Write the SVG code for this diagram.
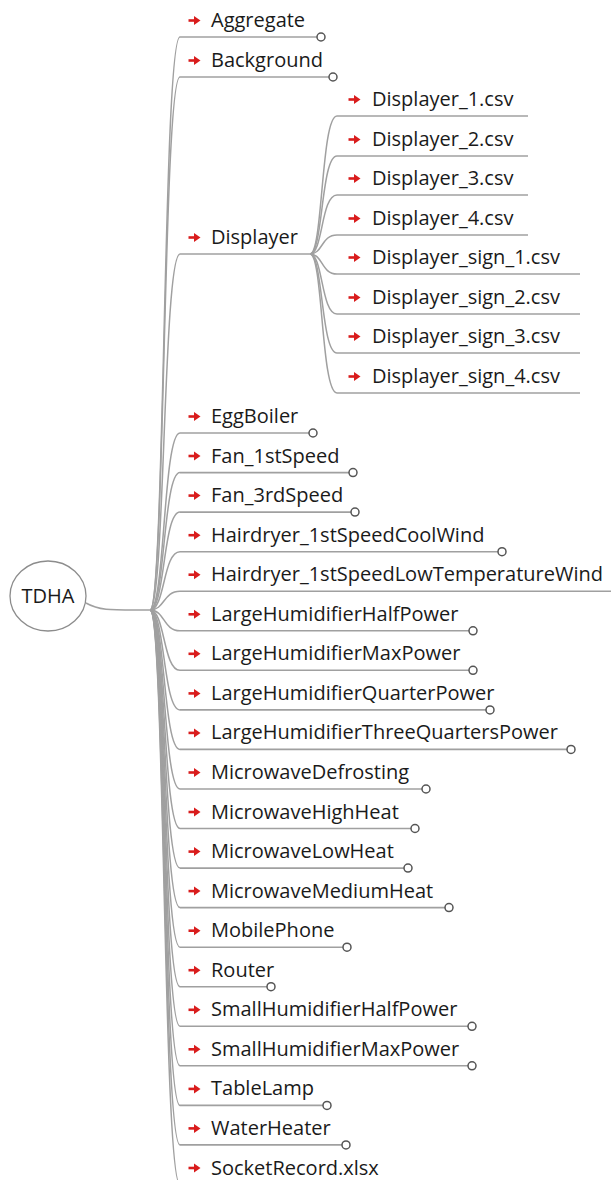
<svg xmlns="http://www.w3.org/2000/svg" width="611" height="1180" viewBox="0 0 611 1180">
  <style>
    .bg { fill: #ffffff; }
    .link { fill: none; stroke: #a0a0a0; stroke-width: 1.5; }
    .under { fill: none; stroke: #a0a0a0; stroke-width: 1.6; }
    .lbl { font-family: "Open Sans", "DejaVu Sans", sans-serif; font-size: 20px; fill: #1a1a1a; }
    .root-shape { fill: #ffffff; stroke: #8c8c8c; stroke-width: 1.3; }
    .root-lbl { font-family: "Open Sans", "DejaVu Sans", sans-serif; font-size: 20px; fill: #1a1a1a; text-anchor: middle; }
    .fold { fill: #ffffff; stroke: #555555; stroke-width: 1.5; }
  </style>
  <defs>
    <!-- red pointer icon drawn in front of every topic label; tip at the origin -->
    <g id="pointer">
      <path d="M-11.5,0 H-4" stroke="#d91c1c" stroke-width="2.6" fill="none"/>
      <path d="M-6,-4.5 L0.5,0 L-6,4.5 Z" fill="#d91c1c"/>
    </g>
  </defs>
  <rect class="bg" x="0" y="0" width="611" height="1180"/>

  <!-- branch curves -->
  <g id="connectors">
    <path class="link" d="M86,603 C100,611 112,610 150,610"/>
    <path class="link" d="M150,610 C165,610 163,37 180,37"/>
    <path class="link" d="M150,610 C165,610 163,77 180,77"/>
    <path class="link" d="M150,610 C165,610 163,254 180,254"/>
    <path class="link" d="M150,610 C165,610 163,433 180,433"/>
    <path class="link" d="M150,610 C165,610 163,472.6 180,472.6"/>
    <path class="link" d="M150,610 C165,610 163,512.1 180,512.1"/>
    <path class="link" d="M150,610 C165,610 163,551.7 180,551.7"/>
    <path class="link" d="M150,610 C165,610 163,591.2 180,591.2"/>
    <path class="link" d="M150,610 C165,610 163,630.8 180,630.8"/>
    <path class="link" d="M150,610 C165,610 163,670.3 180,670.3"/>
    <path class="link" d="M150,610 C165,610 163,709.9 180,709.9"/>
    <path class="link" d="M150,610 C165,610 163,749.4 180,749.4"/>
    <path class="link" d="M150,610 C165,610 163,789 180,789"/>
    <path class="link" d="M150,610 C165,610 163,828.5 180,828.5"/>
    <path class="link" d="M150,610 C165,610 163,868.1 180,868.1"/>
    <path class="link" d="M150,610 C165,610 163,907.6 180,907.6"/>
    <path class="link" d="M150,610 C165,610 163,947.2 180,947.2"/>
    <path class="link" d="M150,610 C165,610 163,986.7 180,986.7"/>
    <path class="link" d="M150,610 C165,610 163,1026.3 180,1026.3"/>
    <path class="link" d="M150,610 C165,610 163,1065.8 180,1065.8"/>
    <path class="link" d="M150,610 C165,610 163,1105.4 180,1105.4"/>
    <path class="link" d="M150,610 C165,610 163,1144.9 180,1144.9"/>
    <path class="link" d="M150,610 C165,610 163,1184.5 180,1184.5"/>
    <!-- Displayer sub-branches -->
    <path class="link" d="M310,254 C323,254 321,116 337,116"/>
    <path class="link" d="M310,254 C323,254 321,156 337,156"/>
    <path class="link" d="M310,254 C323,254 321,195 337,195"/>
    <path class="link" d="M310,254 C323,254 321,235 337,235"/>
    <path class="link" d="M310,254 C323,254 321,274 337,274"/>
    <path class="link" d="M310,254 C323,254 321,314 337,314"/>
    <path class="link" d="M310,254 C323,254 321,353 337,353"/>
    <path class="link" d="M310,254 C323,254 321,393 337,393"/>
  </g>

  <g id="root">
    <ellipse class="root-shape" cx="48" cy="596" rx="38" ry="35"/>
    <text class="root-lbl" x="48" y="603">TDHA</text>
  </g>

  <g id="aggregate">
    <path class="under" d="M180,37 H317"/><circle class="fold" cx="321" cy="37" r="4"/>
    <use href="#pointer" x="200" y="20.5"/><text class="lbl" x="211" y="27">Aggregate</text>
  </g>
  <g id="background">
    <path class="under" d="M180,77 H329"/><circle class="fold" cx="333" cy="77" r="4"/>
    <use href="#pointer" x="200" y="60.5"/><text class="lbl" x="211" y="67">Background</text>
  </g>
  <g id="displayer">
    <path class="under" d="M180,254 H310"/>
    <use href="#pointer" x="200" y="237.5"/><text class="lbl" x="211" y="244">Displayer</text>
  </g>
  <g id="displayer-1">
    <path class="under" d="M337,116 H528"/>
    <use href="#pointer" x="360" y="99.5"/><text class="lbl" x="372" y="106">Displayer_1.csv</text>
  </g>
  <g id="displayer-2">
    <path class="under" d="M337,156 H528"/>
    <use href="#pointer" x="360" y="139.5"/><text class="lbl" x="372" y="146">Displayer_2.csv</text>
  </g>
  <g id="displayer-3">
    <path class="under" d="M337,195 H528"/>
    <use href="#pointer" x="360" y="178.5"/><text class="lbl" x="372" y="185">Displayer_3.csv</text>
  </g>
  <g id="displayer-4">
    <path class="under" d="M337,235 H528"/>
    <use href="#pointer" x="360" y="218.5"/><text class="lbl" x="372" y="225">Displayer_4.csv</text>
  </g>
  <g id="displayer-sign-1">
    <path class="under" d="M337,274 H580"/>
    <use href="#pointer" x="360" y="257.5"/><text class="lbl" x="372" y="264">Displayer_sign_1.csv</text>
  </g>
  <g id="displayer-sign-2">
    <path class="under" d="M337,314 H580"/>
    <use href="#pointer" x="360" y="297.5"/><text class="lbl" x="372" y="304">Displayer_sign_2.csv</text>
  </g>
  <g id="displayer-sign-3">
    <path class="under" d="M337,353 H580"/>
    <use href="#pointer" x="360" y="336.5"/><text class="lbl" x="372" y="343">Displayer_sign_3.csv</text>
  </g>
  <g id="displayer-sign-4">
    <path class="under" d="M337,393 H580"/>
    <use href="#pointer" x="360" y="376.5"/><text class="lbl" x="372" y="383">Displayer_sign_4.csv</text>
  </g>

  <g id="eggboiler">
    <path class="under" d="M180,433 H309"/><circle class="fold" cx="313" cy="433" r="4"/>
    <use href="#pointer" x="200" y="416.5"/><text class="lbl" x="211" y="423">EggBoiler</text>
  </g>
  <g id="fan-1st">
    <path class="under" d="M180,472.6 H349"/><circle class="fold" cx="353" cy="472.6" r="4"/>
    <use href="#pointer" x="200" y="456"/><text class="lbl" x="211" y="462.6">Fan_1stSpeed</text>
  </g>
  <g id="fan-3rd">
    <path class="under" d="M180,512.1 H351"/><circle class="fold" cx="355" cy="512.1" r="4"/>
    <use href="#pointer" x="200" y="495.6"/><text class="lbl" x="211" y="502.1">Fan_3rdSpeed</text>
  </g>
  <g id="hairdryer-cool">
    <path class="under" d="M180,551.7 H498"/><circle class="fold" cx="502" cy="551.7" r="4"/>
    <use href="#pointer" x="200" y="535.2"/><text class="lbl" x="211" y="541.7">Hairdryer_1stSpeedCoolWind</text>
  </g>
  <g id="hairdryer-lowtemp">
    <path class="under" d="M180,591.2 H611"/>
    <use href="#pointer" x="200" y="574.7"/><text class="lbl" x="211" y="581.2">Hairdryer_1stSpeedLowTemperatureWind</text>
  </g>
  <g id="large-half">
    <path class="under" d="M180,630.8 H469"/><circle class="fold" cx="473" cy="630.8" r="4"/>
    <use href="#pointer" x="200" y="614.3"/><text class="lbl" x="211" y="620.8">LargeHumidifierHalfPower</text>
  </g>
  <g id="large-max">
    <path class="under" d="M180,670.3 H469"/><circle class="fold" cx="473" cy="670.3" r="4"/>
    <use href="#pointer" x="200" y="653.8"/><text class="lbl" x="211" y="660.3">LargeHumidifierMaxPower</text>
  </g>
  <g id="large-quarter">
    <path class="under" d="M180,709.9 H486"/><circle class="fold" cx="490" cy="709.9" r="4"/>
    <use href="#pointer" x="200" y="693.4"/><text class="lbl" x="211" y="699.9">LargeHumidifierQuarterPower</text>
  </g>
  <g id="large-three-quarters">
    <path class="under" d="M180,749.4 H567"/><circle class="fold" cx="571" cy="749.4" r="4"/>
    <use href="#pointer" x="200" y="732.9"/><text class="lbl" x="211" y="739.4">LargeHumidifierThreeQuartersPower</text>
  </g>
  <g id="microwave-defrost">
    <path class="under" d="M180,789 H422"/><circle class="fold" cx="426" cy="789" r="4"/>
    <use href="#pointer" x="200" y="772.5"/><text class="lbl" x="211" y="779">MicrowaveDefrosting</text>
  </g>
  <g id="microwave-high">
    <path class="under" d="M180,828.5 H411"/><circle class="fold" cx="415" cy="828.5" r="4"/>
    <use href="#pointer" x="200" y="812"/><text class="lbl" x="211" y="818.5">MicrowaveHighHeat</text>
  </g>
  <g id="microwave-low">
    <path class="under" d="M180,868.1 H404"/><circle class="fold" cx="408" cy="868.1" r="4"/>
    <use href="#pointer" x="200" y="851.6"/><text class="lbl" x="211" y="858.1">MicrowaveLowHeat</text>
  </g>
  <g id="microwave-medium">
    <path class="under" d="M180,907.6 H445"/><circle class="fold" cx="449" cy="907.6" r="4"/>
    <use href="#pointer" x="200" y="891.1"/><text class="lbl" x="211" y="897.6">MicrowaveMediumHeat</text>
  </g>
  <g id="mobilephone">
    <path class="under" d="M180,947.2 H343"/><circle class="fold" cx="347" cy="947.2" r="4"/>
    <use href="#pointer" x="200" y="930.7"/><text class="lbl" x="211" y="937.2">MobilePhone</text>
  </g>
  <g id="router">
    <path class="under" d="M180,986.7 H267"/><circle class="fold" cx="271" cy="986.7" r="4"/>
    <use href="#pointer" x="200" y="970.2"/><text class="lbl" x="211" y="976.7">Router</text>
  </g>
  <g id="small-half">
    <path class="under" d="M180,1026.3 H468"/><circle class="fold" cx="472" cy="1026.3" r="4"/>
    <use href="#pointer" x="200" y="1009.8"/><text class="lbl" x="211" y="1016.3">SmallHumidifierHalfPower</text>
  </g>
  <g id="small-max">
    <path class="under" d="M180,1065.8 H468"/><circle class="fold" cx="472" cy="1065.8" r="4"/>
    <use href="#pointer" x="200" y="1049.3"/><text class="lbl" x="211" y="1055.8">SmallHumidifierMaxPower</text>
  </g>
  <g id="tablelamp">
    <path class="under" d="M180,1105.4 H323"/><circle class="fold" cx="327" cy="1105.4" r="4"/>
    <use href="#pointer" x="200" y="1088.9"/><text class="lbl" x="211" y="1095.4">TableLamp</text>
  </g>
  <g id="waterheater">
    <path class="under" d="M180,1144.9 H342"/><circle class="fold" cx="346" cy="1144.9" r="4"/>
    <use href="#pointer" x="200" y="1128.4"/><text class="lbl" x="211" y="1134.9">WaterHeater</text>
  </g>
  <g id="socketrecord">
    <path class="under" d="M180,1184.5 H380"/>
    <use href="#pointer" x="200" y="1168"/><text class="lbl" x="211" y="1174.5">SocketRecord.xlsx</text>
  </g>
</svg>
